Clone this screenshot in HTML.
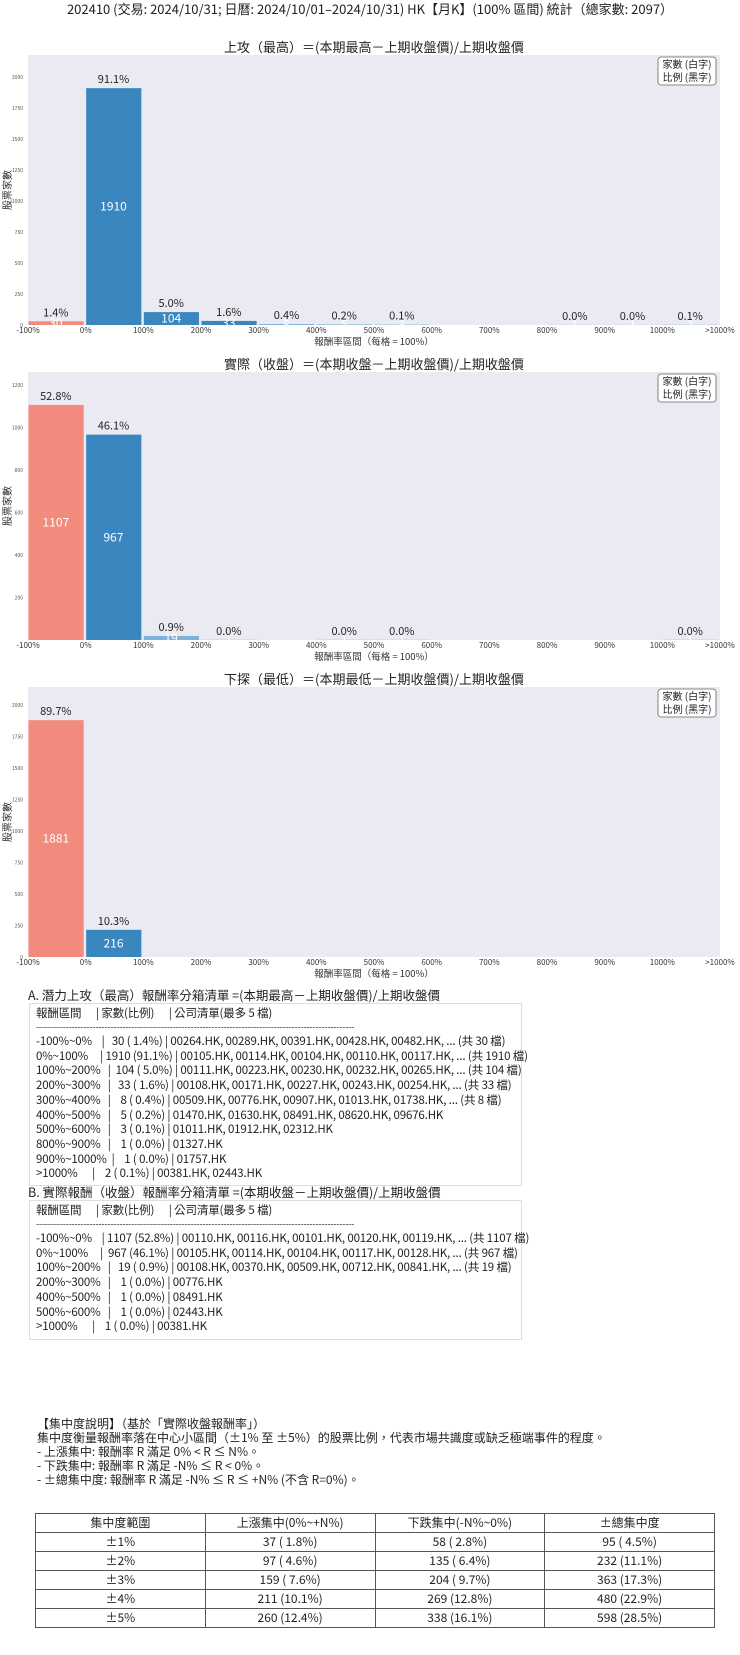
<!DOCTYPE html>
<html><head><meta charset="utf-8">
<style>
body{margin:0;background:#fff;width:740px;height:1655px;position:relative;overflow:hidden;font-family:"Noto Sans CJK TC","Liberation Sans",sans-serif;color:#222}
.abs{position:absolute}
.box{position:absolute;border:1px solid #ddd;box-sizing:border-box}
.ln{position:absolute;left:6px;font-size:11.5px;white-space:pre;line-height:14px;letter-spacing:-0.15px}
table{border-collapse:collapse;position:absolute;left:35px;top:1513px;width:680px;font-size:12px}
td{border:1px solid #555;height:18px;line-height:16px;text-align:center;padding:0;width:25%}
.tx{position:absolute;left:37px;font-size:12px;line-height:14px;white-space:nowrap}
</style></head><body>
<div class="abs" style="left:0;width:740px;top:0;text-align:center;font-size:13px;line-height:17px">202410 (交易: 2024/10/31; 日曆: 2024/10/01–2024/10/31) HK【月K】(100% 區間) 統計（總家數: 2097）</div>
<svg id="charts" class="abs" style="left:0;top:0" width="740" height="990" font-family="Noto Sans CJK TC, Liberation Sans, sans-serif"></svg>

<div class="abs" style="left:28px;top:987px;font-size:12.5px;line-height:15px">A. 潛力上攻（最高）報酬率分箱清單 =(本期最高－上期收盤價)/上期收盤價</div>
<div class="box" style="left:29px;top:1003px;width:493px;height:183px">
<div class="ln" style="top:2px">報酬區間      | 家數(比例)      | 公司清單(最多 5 檔)</div>
<div class="ln" style="top:16px;font-size:9px">-----------------------------------------------------------------------------------------------------------</div>
<div class="ln" style="top:30px">-100%~0%    |   30 ( 1.4%) | 00264.HK, 00289.HK, 00391.HK, 00428.HK, 00482.HK, ... (共 30 檔)</div>
<div class="ln" style="top:44.7px">0%~100%     | 1910 (91.1%) | 00105.HK, 00114.HK, 00104.HK, 00110.HK, 00117.HK, ... (共 1910 檔)</div>
<div class="ln" style="top:59.4px">100%~200%   |  104 ( 5.0%) | 00111.HK, 00223.HK, 00230.HK, 00232.HK, 00265.HK, ... (共 104 檔)</div>
<div class="ln" style="top:74.1px">200%~300%   |   33 ( 1.6%) | 00108.HK, 00171.HK, 00227.HK, 00243.HK, 00254.HK, ... (共 33 檔)</div>
<div class="ln" style="top:88.8px">300%~400%   |    8 ( 0.4%) | 00509.HK, 00776.HK, 00907.HK, 01013.HK, 01738.HK, ... (共 8 檔)</div>
<div class="ln" style="top:103.5px">400%~500%   |    5 ( 0.2%) | 01470.HK, 01630.HK, 08491.HK, 08620.HK, 09676.HK</div>
<div class="ln" style="top:118.2px">500%~600%   |    3 ( 0.1%) | 01011.HK, 01912.HK, 02312.HK</div>
<div class="ln" style="top:132.9px">800%~900%   |    1 ( 0.0%) | 01327.HK</div>
<div class="ln" style="top:147.6px">900%~1000%  |    1 ( 0.0%) | 01757.HK</div>
<div class="ln" style="top:162.3px">>1000%      |    2 ( 0.1%) | 00381.HK, 02443.HK</div>
</div>
<div class="abs" style="left:28px;top:1184px;font-size:12.5px;line-height:15px">B. 實際報酬（收盤）報酬率分箱清單 =(本期收盤－上期收盤價)/上期收盤價</div>
<div class="box" style="left:29px;top:1200px;width:493px;height:140px">
<div class="ln" style="top:2px">報酬區間      | 家數(比例)      | 公司清單(最多 5 檔)</div>
<div class="ln" style="top:16px;font-size:9px">-----------------------------------------------------------------------------------------------------------</div>
<div class="ln" style="top:30px">-100%~0%    | 1107 (52.8%) | 00110.HK, 00116.HK, 00101.HK, 00120.HK, 00119.HK, ... (共 1107 檔)</div>
<div class="ln" style="top:44.7px">0%~100%     |  967 (46.1%) | 00105.HK, 00114.HK, 00104.HK, 00117.HK, 00128.HK, ... (共 967 檔)</div>
<div class="ln" style="top:59.4px">100%~200%   |   19 ( 0.9%) | 00108.HK, 00370.HK, 00509.HK, 00712.HK, 00841.HK, ... (共 19 檔)</div>
<div class="ln" style="top:74.1px">200%~300%   |    1 ( 0.0%) | 00776.HK</div>
<div class="ln" style="top:88.8px">400%~500%   |    1 ( 0.0%) | 08491.HK</div>
<div class="ln" style="top:103.5px">500%~600%   |    1 ( 0.0%) | 02443.HK</div>
<div class="ln" style="top:118.2px">>1000%      |    1 ( 0.0%) | 00381.HK</div>
</div>

<div class="tx" style="top:1417px">【集中度說明】（基於「實際收盤報酬率」）</div>
<div class="tx" style="top:1431px">集中度衡量報酬率落在中心小區間（±1% 至 ±5%）的股票比例，代表市場共識度或缺乏極端事件的程度。</div>
<div class="tx" style="top:1445px">- 上漲集中: 報酬率 R 滿足 0% &lt; R ≤ N%。</div>
<div class="tx" style="top:1459px">- 下跌集中: 報酬率 R 滿足 -N% ≤ R &lt; 0%。</div>
<div class="tx" style="top:1473px">- ±總集中度: 報酬率 R 滿足 -N% ≤ R ≤ +N% (不含 R=0%)。</div>
<table>
<tr><td>集中度範圍</td><td>上漲集中(0%~+N%)</td><td>下跌集中(-N%~0%)</td><td>±總集中度</td></tr>
<tr><td>±1%</td><td>37 ( 1.8%)</td><td>58 ( 2.8%)</td><td>95 ( 4.5%)</td></tr>
<tr><td>±2%</td><td>97 ( 4.6%)</td><td>135 ( 6.4%)</td><td>232 (11.1%)</td></tr>
<tr><td>±3%</td><td>159 ( 7.6%)</td><td>204 ( 9.7%)</td><td>363 (17.3%)</td></tr>
<tr><td>±4%</td><td>211 (10.1%)</td><td>269 (12.8%)</td><td>480 (22.9%)</td></tr>
<tr><td>±5%</td><td>260 (12.4%)</td><td>338 (16.1%)</td><td>598 (28.5%)</td></tr>
</table>

<script>
const TOTAL = 2097;
const xLabels = ["-100%","0%","100%","200%","300%","400%","500%","600%","700%","800%","900%","1000%",">1000%"];
const highCounts = [30,1910,104,33,8,5,3,0,0,1,1,2];
const closeCounts = [1107,967,19,1,0,1,1,0,0,0,0,1];
const lowCounts = [1881,216,0,0,0,0,0,0,0,0,0,0];
const highTicks = [0,250,500,750,1000,1250,1500,1750,2000];
const closeTicks = [200,400,600,800,1000,1200];
const lowTicks = [0,250,500,750,1000,1250,1500,1750,2000];
const titles = ["上攻（最高）＝(本期最高－上期收盤價)/上期收盤價","實際（收盤）＝(本期收盤－上期收盤價)/上期收盤價","下探（最低）＝(本期最低－上期收盤價)/上期收盤價"];

const NS = "http://www.w3.org/2000/svg";
const svg = document.getElementById('charts');
function mk(tag, attrs, parent){const e=document.createElementNS(NS,tag);for(const k in attrs)e.setAttribute(k,attrs[k]);parent.appendChild(e);return e;}
const X0=28, X1=720;

function drawChart(idx, top, bottom, counts, ticks){
  const g = mk('g',{},svg);
  
  
  const ymax = Math.max(...counts)*1.14;
  const y = v => bottom - (v/ymax)*(bottom-top);
  const bw = (X1-X0)/counts.length;
  const xs = i => X0 + i*bw;
  const t = mk('text',{x:(X0+X1)/2,y:top-3,'text-anchor':'middle','font-size':13,fill:'#222'},g);
  t.textContent = titles[idx];
  
  
  const bg = mk('rect',{x:X0,y:top,width:X1-X0,height:bottom-top,fill:'#eaeaf2'},g);
  
  
  ticks.forEach(v=>{
    const tt = mk('text',{x:23,y:y(v)+2,'text-anchor':'end','font-size':5,fill:'#555'},g);
    tt.textContent = v;
    
    
  });
  const yl = mk('text',{x:0,y:0,'text-anchor':'middle','font-size':10,fill:'#333',transform:`translate(11,${(top+bottom)/2}) rotate(-90)`},g);
  yl.textContent='股票家數';
  
  
  xLabels.forEach((l,i)=>{
    const xt = mk('text',{x:xs(i),y:bottom+8,'text-anchor':'middle','font-size':8,fill:'#333'},g);
    xt.textContent=l;
    
    
  });
  const xl = mk('text',{x:(X0+X1)/2,y:bottom+20,'text-anchor':'middle','font-size':9.5,fill:'#333'},g);
  xl.textContent='報酬率區間（每格 = 100%）';
  
  
  counts.forEach((c,i)=>{
    if(c<=0) return;
    const col = i===0 ? '#f28b7e' : (c<20 ? '#7fb2da' : '#3a87bf');
    const r = mk('rect',{x:xs(i)+0.5,y:y(c),width:bw-2.5,height:bottom-y(c),fill:col},g);
    
    
    const p = mk('text',{x:xs(i)+bw/2-1,y:y(c)-5,'text-anchor':'middle','font-size':11,fill:'#222'},g);
    p.textContent=(c/TOTAL*100).toFixed(1)+'%';
    
    
    const n = mk('text',{x:xs(i)+bw/2-1,y:(y(c)+bottom)/2+4,'text-anchor':'middle','font-size':12,fill:'#fff'},g);
    n.textContent=c;
    
    
  });
  const lg = mk('rect',{x:658,y:top+2,width:58,height:28,rx:3,fill:'#fff',stroke:'#666','stroke-width':0.8},g);
  
  
  const l1 = mk('text',{x:687,y:top+13,'text-anchor':'middle','font-size':10,fill:'#222'},g);
  l1.textContent='家數 (白字)';
  
  
  const l2 = mk('text',{x:687,y:top+26,'text-anchor':'middle','font-size':10,fill:'#222'},g);
  l2.textContent='比例 (黑字)';
  
  
}
drawChart(0,55,325,highCounts,highTicks);
drawChart(1,372,640,closeCounts,closeTicks);
drawChart(2,687,957,lowCounts,lowTicks);
</script>
</body></html>
